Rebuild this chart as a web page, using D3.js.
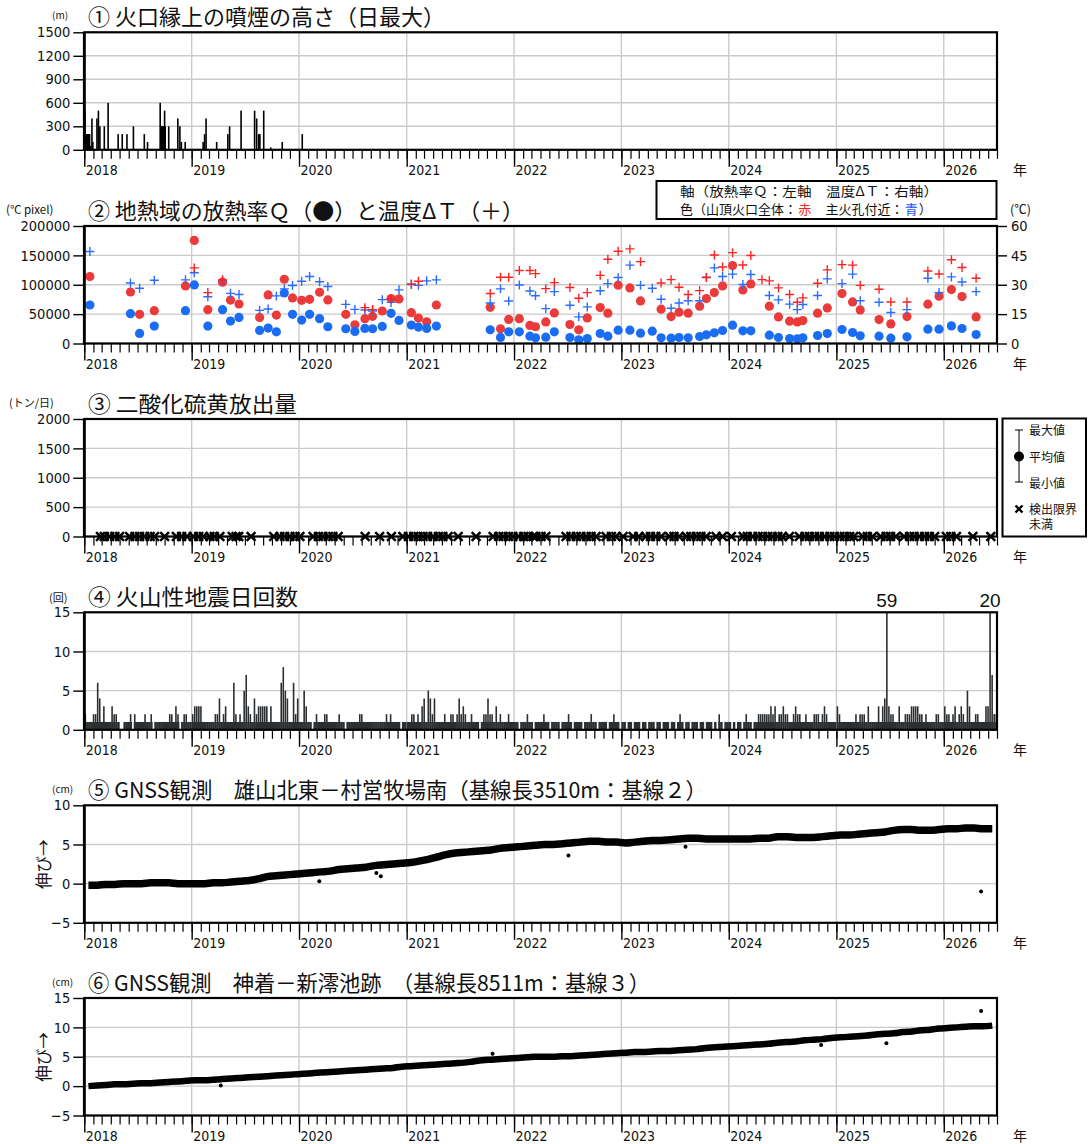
<!DOCTYPE html>
<html><head><meta charset="utf-8">
<script src="https://cdn.jsdelivr.net/npm/d3@7"></script>
<style>body{margin:0;background:#fff}svg{display:block}</style>
</head><body>
<svg id="chart" width="1089" height="1144"></svg>
<script>
// ---------------- DATA ----------------
const titles = [
  "① 火口縁上の噴煙の高さ（日最大）",
  "② 地熱域の放熱率Ｑ（●）と温度ΔＴ（＋）",
  "③ 二酸化硫黄放出量",
  "④ 火山性地震日回数",
  "⑤ GNSS観測　雄山北東－村営牧場南（基線長3510m：基線２）",
  "⑥ GNSS観測　神着－新澪池跡　（基線長8511m：基線３）"
];
const units = ["(m)", "(℃ pixel)", "(トン/日)", "(回)", "(cm)", "(cm)"];
const legend2Line1 = "軸（放熱率Ｑ：左軸　温度ΔＴ：右軸）";
const legend2Line2 = [["色（山頂火口全体：","#111"],["赤","#ff1a1a"],["　主火孔付近：","#111"],["青","#1a55ff"],["）","#111"]];
const legend3Items = ["最大値","平均値","最小値","検出限界","未満"];
const yTicks1 = [0, 300, 600, 900, 1200, 1500];
const yTicks2 = [0, 50000, 100000, 150000, 200000];
const yTicks2R = [0, 15, 30, 45, 60];
const yTicks3 = [0, 500, 1000, 1500, 2000];
const yTicks4 = [0, 5, 10, 15];
const yTicks5 = [-5, 0, 5, 10];
const yTicks6 = [-5, 0, 5, 10, 15];

// ① plume height (daily max, m)
const plumeDates = ["2018-01-03","2018-01-07","2018-01-10","2018-01-13","2018-01-16","2018-01-19","2018-01-22","2018-01-27","2018-01-30",
  "2018-02-13","2018-02-18","2018-02-23","2018-03-10","2018-03-23","2018-04-26","2018-05-10","2018-05-26","2018-06-17","2018-07-24","2018-08-04",
  "2018-09-16","2018-09-18","2018-09-20","2018-09-22","2018-09-24","2018-09-26","2018-09-28","2018-10-01","2018-10-03","2018-10-15",
  "2018-11-15","2018-11-22","2018-11-27","2018-12-10",
  "2019-02-09","2019-02-14","2019-02-19","2019-03-27","2019-05-04","2019-05-10","2019-06-18","2019-08-03","2019-08-10","2019-08-17","2019-08-21",
  "2019-09-03","2019-09-27","2019-11-05","2020-01-12"];
const plumeHeights = [500,200,200,200,200,200,50,400,100,
  400,500,300,300,600,200,200,200,300,200,100,
  600,300,300,300,300,300,300,500,300,300,
  400,300,100,100,
  100,200,400,100,200,300,500,500,400,200,200,
  500,30,100,200];

// ② heat discharge rate Q (left axis) and temperature ΔT (right axis)
const heatDates = ["2018-01-20","2018-06-07","2018-07-08","2018-08-27","2018-12-11","2019-01-10","2019-02-25","2019-04-16","2019-05-13","2019-06-11",
  "2019-08-20","2019-09-18","2019-10-16","2019-11-12","2019-12-10","2020-01-10","2020-02-06","2020-03-11","2020-04-08","2020-06-08",
  "2020-07-09","2020-08-12","2020-09-07","2020-10-10","2020-11-09","2020-12-06","2021-01-17","2021-02-10","2021-03-10","2021-04-12",
  "2021-10-12","2021-11-16","2021-12-14","2022-01-19","2022-02-24","2022-03-15","2022-04-19","2022-05-18","2022-07-10","2022-08-09",
  "2022-09-07","2022-10-21","2022-11-16","2022-12-21","2023-01-30","2023-03-07","2023-04-16","2023-05-16","2023-06-19","2023-07-16",
  "2023-08-16","2023-09-24","2023-10-17","2023-11-13","2023-12-11","2024-01-14","2024-02-18","2024-03-16","2024-04-23","2024-05-18",
  "2024-06-18","2024-07-26","2024-08-21","2024-09-09","2024-10-29","2024-12-01","2025-01-20","2025-02-25","2025-03-23","2025-05-26",
  "2025-07-05","2025-08-29","2025-11-08","2025-12-16","2026-01-27","2026-03-04","2026-04-21"];
const qRed = [114000,87700,49600,55800,98000,175500,57500,104300,74000,67200,
  44400,82600,48400,109400,77500,73500,75200,87200,74100,49600,
  31900,42200,46200,55300,76400,75800,52400,43300,37000,65500,
  61500,25100,41000,42200,30800,28500,36800,52100,32300,23200,
  43600,61200,51600,99200,94600,72500,null,58400,45900,53300,
  51600,63500,76500,86700,98000,132600,91200,101400,null,63500,
  45300,38000,36800,39100,51600,60600,85000,70800,57200,40800,
  33400,45900,66900,80500,91800,79900,45300];
const qBlue = [65500,50700,17100,29600,55800,99700,29600,57500,38200,44400,
  22200,26200,19900,86000,49600,39900,49600,42200,28500,25100,
  20500,25600,25100,29100,51300,39300,31300,27900,25600,29600,
  23400,10300,19900,19900,12500,9700,10800,19800,10200,6200,
  8500,17000,12500,22700,22700,17600,21000,9600,9100,10200,
  9600,11900,14700,18100,22100,31200,21500,21500,null,14200,
  10200,8500,7900,9600,13600,17000,23800,18700,13000,12500,
  9100,11300,24400,24400,30000,25500,15300];
const tRed = [null,null,null,null,null,38.6,26.0,32.5,null,null,
  null,null,null,null,null,null,null,null,null,null,
  null,18.3,17.3,null,22.7,null,30.4,31.8,null,null,
  25.5,33.8,33.8,37.3,37.3,35.7,28.0,31.1,28.6,23.1,
  26.0,34.8,43.0,47.1,48.3,41.8,null,30.9,32.6,28.7,
  25.0,27.0,33.7,45.2,39.1,46.4,40.1,44.9,32.6,32.0,
  28.4,25.0,21.1,23.3,30.8,37.6,40.3,40.0,29.7,27.7,
  21.2,21.2,37.0,35.5,42.8,38.8,33.3];
const tBlue = [47.0,30.9,28.2,32.3,32.5,36.1,23.9,32.1,25.6,25.0,
  16.9,17.6,24.3,27.9,29.6,31.8,34.2,31.5,29.1,20.0,
  17.4,17.1,16.6,22.4,21.0,27.4,30.1,29.7,32.0,32.5,
  20.7,27.9,21.7,29.9,26.8,24.4,17.8,26.5,19.5,13.6,
  18.7,26.9,30.6,33.7,40.0,29.7,28.2,22.6,18.0,20.7,
  21.8,21.8,33.8,38.6,34.2,35.4,30.1,35.2,null,24.5,
  22.3,20.1,17.3,19.9,24.5,33.0,30.6,35.4,21.8,21.1,
  15.8,17.3,33.3,26.0,34.0,31.4,26.5];

// ③ SO2: observation dates below detection limit
const so2BelowLimit = ["2018-02-25","2018-03-10","2018-03-28","2018-04-15","2018-05-01","2018-06-04","2018-06-22","2018-07-08","2018-07-25","2018-08-13",
  "2018-08-28","2018-10-01","2018-11-10","2018-11-28","2018-12-16","2019-01-07","2019-01-25","2019-02-10","2019-03-04","2019-03-19",
  "2019-04-07","2019-05-19","2019-06-01","2019-06-10","2019-07-22","2019-10-07","2019-10-28","2019-11-13","2019-12-01","2019-12-19",
  "2020-01-04","2020-02-18","2020-03-07","2020-03-22","2020-04-10","2020-04-25","2020-05-13","2020-08-13","2020-10-01","2020-11-10",
  "2020-12-19","2021-01-07","2021-01-25","2021-02-09","2021-02-26","2021-03-13","2021-04-01","2021-04-19","2021-05-04","2021-05-22",
  "2021-06-25","2021-08-25","2021-10-22","2021-11-10","2021-11-25","2021-12-13","2021-12-28","2022-01-16","2022-02-03","2022-02-18",
  "2022-03-07","2022-03-16","2022-04-03","2022-04-19","2022-06-27","2022-07-13","2022-08-01","2022-08-16","2022-09-04","2022-09-20",
  "2022-10-07","2022-11-10","2022-11-28","2022-12-13","2023-01-07","2023-02-10","2023-03-01","2023-03-25","2023-04-10","2023-04-28",
  "2023-05-16","2023-06-13","2023-06-29","2023-07-16","2023-08-10","2023-08-25","2023-09-13","2023-09-28","2023-10-16","2023-11-19",
  "2023-12-11","2024-01-10","2024-02-19","2024-03-04","2024-03-22","2024-04-10","2024-04-25","2024-05-13","2024-05-28","2024-06-16",
  "2024-07-01","2024-07-25","2024-08-28","2024-09-16","2024-10-01","2024-10-19","2024-11-04","2024-11-22","2024-12-10","2024-12-25",
  "2025-01-13","2025-01-28","2025-02-15","2025-03-01","2025-04-01","2025-04-16","2025-05-04","2025-06-01","2025-06-19","2025-07-04",
  "2025-07-22","2025-08-19","2025-09-07","2025-09-22","2025-10-10","2025-10-28","2025-11-13","2025-12-01","2026-01-10","2026-01-25",
  "2026-02-13","2026-04-10","2026-06-10"];

// ④ volcanic earthquakes: weekly maximum of daily counts, by year
const quake2018 = [2,1,1,1,2,2,6,4,1,3,1,1,1,3,2,2,1,0,0,1,1,1,2,0,2,1,1,1,1,2,1,1,2,0,1,1,1,1,1,1,1,2,2,1,3,2,0,1,2,2,1,1];
const quake2019 = [2,3,3,3,3,1,1,1,1,1,1,2,2,4,1,2,3,1,1,1,6,2,1,2,1,5,7,3,2,1,4,2,3,3,3,3,3,1,3,1,1,1,1,6,8,5,4,1,1,6,2,4];
const quake2020 = [1,1,5,3,1,1,0,1,2,1,1,1,2,2,1,1,1,1,1,2,1,1,0,1,1,1,1,1,1,2,2,1,1,1,1,1,1,1,1,1,1,1,2,1,2,1,1,1,1,0,1,1];
const quake2021 = [1,1,2,2,1,2,1,3,4,1,5,4,2,4,1,1,1,1,2,1,1,2,2,1,2,4,2,3,2,1,1,2,1,1,1,0,1,2,2,4,2,2,1,3,1,2,1,1,1,2,1,1];
const quake2022 = [1,1,0,1,1,1,2,1,1,0,1,1,1,1,2,1,1,0,1,1,1,1,0,1,1,1,2,1,0,1,1,1,1,0,1,1,1,2,1,1,0,1,1,1,1,0,1,1,2,1,1,0];
const quake2023 = [1,1,0,1,1,0,1,1,1,0,1,1,0,1,1,1,0,1,1,0,1,1,1,0,1,1,0,1,2,1,0,1,1,0,1,1,1,0,1,1,0,1,1,1,0,1,0,2,1,0,1,1];
const quake2024 = [1,0,1,0,1,1,0,1,2,1,1,0,1,1,2,2,2,2,2,2,3,2,3,1,2,2,3,2,2,1,1,2,3,2,2,1,1,2,1,1,1,2,2,2,1,2,3,2,1,1,1,1];
const quake2025 = [3,2,1,1,1,1,1,1,1,2,1,2,2,2,1,3,1,1,1,1,3,1,3,4,59,3,2,2,1,1,3,1,1,2,2,2,3,3,3,3,2,2,1,2,1,1,1,1,2,2,1,1];
const quake2026 = [3,2,2,1,2,3,1,2,3,2,1,5,3,1,1,2,2,1,1,1,3,3,20,7,2,2];

// ⑤ ⑥ GNSS baseline changes (cm), monthly from 2018-01
const gnss5 = [-0.2,-0.2,-0.1,-0.1,0.0,0.0,0.0,0.1,0.1,0.1,0.0,0.0,
  0.0,0.0,0.1,0.1,0.2,0.3,0.4,0.6,0.9,1.0,1.1,1.2,
  1.3,1.4,1.5,1.6,1.8,1.9,2.0,2.1,2.3,2.4,2.5,2.6,
  2.7,2.9,3.1,3.4,3.7,3.9,4.0,4.1,4.2,4.3,4.5,4.6,
  4.7,4.8,4.9,5.0,5.0,5.1,5.2,5.3,5.4,5.4,5.3,5.3,
  5.2,5.3,5.4,5.5,5.5,5.6,5.7,5.8,5.8,5.7,5.7,5.7,
  5.7,5.7,5.7,5.8,5.8,6.0,6.0,5.9,5.9,5.9,6.0,6.1,
  6.2,6.2,6.3,6.4,6.5,6.6,6.8,6.9,6.9,6.8,6.8,6.9,
  7.0,7.0,7.1,7.1,7.0,7.0];
const gnss5OutlierDates = ["2020-03-10","2020-09-20","2020-10-05","2022-07-05","2023-08-07","2026-05-08"];
const gnss5OutlierValues = [0.3,1.35,0.95,3.6,4.7,-1.0];
const gnss6 = [0.0,0.1,0.2,0.3,0.3,0.4,0.5,0.5,0.6,0.7,0.8,0.9,
  1.0,1.0,1.1,1.2,1.3,1.4,1.5,1.6,1.7,1.8,1.9,2.0,
  2.1,2.2,2.3,2.4,2.5,2.6,2.7,2.8,2.9,3.0,3.1,3.3,
  3.4,3.5,3.6,3.7,3.8,3.9,4.0,4.2,4.4,4.5,4.6,4.7,
  4.8,4.9,5.0,5.0,5.0,5.1,5.1,5.2,5.3,5.4,5.5,5.6,
  5.7,5.8,5.8,5.9,6.0,6.0,6.1,6.2,6.3,6.5,6.6,6.7,
  6.8,6.9,7.0,7.1,7.2,7.4,7.5,7.6,7.8,7.9,8.0,8.2,
  8.3,8.4,8.5,8.6,8.8,8.9,9.0,9.2,9.3,9.5,9.6,9.8,
  9.9,10.0,10.1,10.2,10.2,10.3];
const gnss6OutlierDates = ["2019-04-10","2021-10-20","2024-11-10","2025-06-20","2026-05-08"];
const gnss6OutlierValues = [0.1,5.5,7.0,7.3,12.8];

// ---------------- LAYOUT / STYLE ----------------
const JP = "'Noto Sans CJK JP','Noto Sans JP',sans-serif";
const NUM = "'Liberation Sans Narrow','DejaVu Sans Condensed','Noto Sans CJK JP',sans-serif";
const X0 = 84.3, X1 = 997, PH = 117.5;
const tops = [32.3, 226, 419, 612.3, 805.3, 998];
const titleWidths = [357, 436, 209, 210, 619, 562];
const GRID = "#cbcbcb";
const RED_DOT = "#ea3a3a", BLUE_DOT = "#1a6cf2", RED_P = "#ff2222", BLUE_P = "#2a6cff";

const svg = d3.select("#chart");
svg.append("rect").attr("width",1089).attr("height",1144).attr("fill","#fff");
const parse = d3.utcParse("%Y-%m-%d");
const x = d3.scaleUtc().domain([new Date(Date.UTC(2018,0,1)), new Date(Date.UTC(2026,6,1))]).range([X0, X1]);

function makePanel(i, domain, ticks) {
  const top = tops[i], bot = top + PH;
  const y = d3.scaleLinear().domain(domain).range([bot, top]);
  const g = svg.append("g");
  const grid = g.append("g"), data = g.append("g"), axes = g.append("g");
  grid.selectAll("line.h").data(ticks).join("line").attr("class","h")
    .attr("x1",X0).attr("x2",X1).attr("y1",d=>y(d)).attr("y2",d=>y(d))
    .attr("stroke",GRID).attr("stroke-width",1.4);
  grid.selectAll("line.v").data(x.ticks(d3.utcYear.every(1)).slice(1)).join("line").attr("class","v")
    .attr("x1",d=>x(d)).attr("x2",d=>x(d)).attr("y1",top).attr("y2",bot)
    .attr("stroke",GRID).attr("stroke-width",1.4);
  const gm = axes.append("g").attr("transform",`translate(0,${bot})`)
    .call(d3.axisBottom(x).ticks(d3.utcMonth.every(1)).tickSize(9).tickFormat(""));
  gm.select(".domain").remove();
  gm.selectAll("line").attr("stroke","#000").attr("stroke-width",1.2);
  const gyr = axes.append("g").attr("transform",`translate(0,${bot})`)
    .call(d3.axisBottom(x).ticks(d3.utcYear.every(1)).tickSize(17).tickFormat(d3.utcFormat("%Y")));
  gyr.select(".domain").remove();
  gyr.selectAll("line").attr("stroke","#000").attr("stroke-width",1.4);
  gyr.selectAll("text").attr("x",1).attr("y",25.5).attr("dy",null).attr("text-anchor","start")
    .attr("font-family",NUM).attr("font-size",14).attr("fill","#111");
  axes.append("text").attr("x",1013).attr("y",bot+25.5).attr("font-family",JP).attr("font-size",14).attr("fill","#111").text("年");
  const ga = axes.append("g").attr("transform",`translate(${X0},0)`)
    .call(d3.axisLeft(y).tickValues(ticks).tickSize(11).tickPadding(3).tickFormat(d3.format("d")));
  ga.select(".domain").remove();
  ga.selectAll("line").attr("stroke","#000").attr("stroke-width",1.4);
  ga.selectAll("text").attr("font-family",NUM).attr("font-size",14.5).attr("fill","#111");
  axes.append("rect").attr("x",X0).attr("y",top).attr("width",X1-X0).attr("height",PH)
    .attr("fill","none").attr("stroke","#000").attr("stroke-width",2.2);
  axes.append("line").attr("x1",X0).attr("x2",X0).attr("y1",top).attr("y2",bot+1)
    .attr("stroke","#000").attr("stroke-width",2.8);
  axes.append("text").attr("x",88).attr("y",top-7).attr("font-family",JP).attr("font-size",22)
    .attr("textLength",titleWidths[i]).attr("lengthAdjust","spacingAndGlyphs").attr("fill","#111").text(titles[i]);
  return {y, data, axes, top, bot};
}

// ① plume
{
  const p = makePanel(0, [0,1500], yTicks1);
  p.axes.append("text").attr("x",52).attr("y",p.top-13).attr("font-family",JP).attr("font-size",10).attr("fill","#111").text(units[0]);
  p.data.selectAll("rect").data(plumeDates.map((d,i)=>({d:parse(d), v:plumeHeights[i]}))).join("rect")
    .attr("x",d=>x(d.d)-0.8).attr("width",1.6).attr("y",d=>p.y(d.v)).attr("height",d=>p.bot-p.y(d.v)).attr("fill","#000");
}

// ② heat
{
  const p = makePanel(1, [0,200000], yTicks2);
  const yT = d3.scaleLinear().domain([0,60]).range([p.bot, p.top]);
  const gr = p.axes.append("g").attr("transform",`translate(${X1},0)`)
    .call(d3.axisRight(yT).tickValues(yTicks2R).tickSize(10).tickPadding(4));
  gr.select(".domain").remove();
  gr.selectAll("line").attr("stroke","#000").attr("stroke-width",1.4);
  gr.selectAll("text").attr("font-family",NUM).attr("font-size",14.5).attr("fill","#111");
  p.axes.append("text").attr("x",6).attr("y",p.top-12).attr("font-family",JP).attr("font-size",11.5).attr("fill","#111").text(units[1]);
  p.axes.append("text").attr("x",1010).attr("y",p.top-12).attr("font-family",JP).attr("font-size",12.5).attr("fill","#111").text("(℃)");
  const rows = heatDates.map((d,i)=>({d:parse(d), qr:qRed[i], qb:qBlue[i], tr:tRed[i], tb:tBlue[i]}));
  const plus = "M-4.5,0H4.5M0,-4.5V4.5";
  p.data.selectAll("circle.r").data(rows.filter(r=>r.qr!=null)).join("circle").attr("class","r")
    .attr("cx",d=>x(d.d)).attr("cy",d=>p.y(d.qr)).attr("r",4.6).attr("fill",RED_DOT);
  p.data.selectAll("circle.b").data(rows.filter(r=>r.qb!=null)).join("circle").attr("class","b")
    .attr("cx",d=>x(d.d)).attr("cy",d=>p.y(d.qb)).attr("r",4.6).attr("fill",BLUE_DOT);
  p.data.selectAll("path.b").data(rows.filter(r=>r.tb!=null)).join("path").attr("class","b")
    .attr("d",plus).attr("transform",d=>`translate(${x(d.d)},${yT(d.tb)})`).attr("stroke",BLUE_P).attr("stroke-width",1.4).attr("fill","none");
  p.data.selectAll("path.r").data(rows.filter(r=>r.tr!=null)).join("path").attr("class","r")
    .attr("d",plus).attr("transform",d=>`translate(${x(d.d)},${yT(d.tr)})`).attr("stroke",RED_P).attr("stroke-width",1.4).attr("fill","none");
  const lg = p.axes.append("g");
  const FS = 13;
  lg.append("rect").attr("x",656.5).attr("y",181).attr("width",340).attr("height",38).attr("fill","#fff").attr("stroke","#000").attr("stroke-width",2);
  lg.append("text").attr("x",680).attr("y",195.5).attr("font-family",JP).attr("font-size",FS)
    .attr("textLength",258).attr("lengthAdjust","spacingAndGlyphs").attr("fill","#111").text(legend2Line1);
  let cx = 680;
  legend2Line2.forEach(([s,c]) => {
    const t = lg.append("text").attr("x",cx).attr("y",214).attr("font-family",JP).attr("font-size",FS).attr("fill",c).text(s);
    const w = t.node().getComputedTextLength();
    cx += (w > 0 ? w : s.length * FS) + 1.2;
  });
}

// ③ SO2
{
  const p = makePanel(2, [0,2000], yTicks3);
  p.axes.append("text").attr("x",9).attr("y",p.top-12).attr("font-family",JP).attr("font-size",11).attr("fill","#111").text(units[2]);
  const xsym = d3.symbol().type(d3.symbolX).size(52);
  p.axes.selectAll("path.x").data(so2BelowLimit.map(parse)).join("path").attr("class","x")
    .attr("d",xsym).attr("transform",d=>`translate(${x(d)},${p.y(0)})`).attr("stroke","#000").attr("stroke-width",2.5).attr("fill","none");
  const lg = p.axes.append("g");
  lg.append("rect").attr("x",1002.5).attr("y",418.5).attr("width",83.5).attr("height",118).attr("fill","#fff").attr("stroke","#000").attr("stroke-width",2);
  lg.append("line").attr("x1",1019).attr("x2",1019).attr("y1",430).attr("y2",482).attr("stroke","#000").attr("stroke-width",1);
  lg.append("line").attr("x1",1015).attr("x2",1023).attr("y1",430).attr("y2",430).attr("stroke","#000").attr("stroke-width",1);
  lg.append("line").attr("x1",1015).attr("x2",1023).attr("y1",482).attr("y2",482).attr("stroke","#000").attr("stroke-width",1);
  lg.append("circle").attr("cx",1019).attr("cy",456.5).attr("r",5).attr("fill","#000");
  lg.append("path").attr("d",d3.symbol().type(d3.symbolX).size(34)).attr("transform","translate(1019,509)").attr("stroke","#000").attr("stroke-width",2.4).attr("fill","none");
  const ys = [434.5,461.5,487.5,513.5,528.5];
  lg.selectAll("text").data(legend3Items).join("text").attr("x",1029).attr("y",(d,k)=>ys[k]).attr("font-family",JP).attr("font-size",12).attr("fill","#111").text(d=>d);
}

// ④ earthquakes
{
  const p = makePanel(3, [0,15], yTicks4);
  p.axes.append("text").attr("x",49).attr("y",p.top-10).attr("font-family",JP).attr("font-size",11).attr("fill","#111").text(units[3]);
  const byYear = [[2018,quake2018],[2019,quake2019],[2020,quake2020],[2021,quake2021],[2022,quake2022],[2023,quake2023],[2024,quake2024],[2025,quake2025],[2026,quake2026]];
  const weeks = [];
  byYear.forEach(([yr, arr]) => arr.forEach((v,i) => {
    const s = d3.utcDay.offset(new Date(Date.UTC(yr,0,1)), 7*i);
    weeks.push({s, e:d3.utcDay.offset(s,7), v});
  }));
  const COL = "#2c2f31";
  p.data.selectAll("rect").data(weeks.filter(w=>w.v>0)).join("rect")
    .attr("x",d=>x(d.s)).attr("width",d=>Math.min(x(d.e)+0.4,X1)-x(d.s)).attr("y",p.y(1)).attr("height",p.bot-p.y(1)).attr("fill",COL);
  p.data.selectAll("line").data(weeks.filter(w=>w.v>1)).join("line")
    .attr("x1",d=>(x(d.s)+x(d.e))/2).attr("x2",d=>(x(d.s)+x(d.e))/2)
    .attr("y1",p.y(1)).attr("y2",d=>p.y(Math.min(d.v,15))).attr("stroke",COL).attr("stroke-width",1.6);
  p.axes.selectAll("text.big").data(weeks.filter(w=>w.v>15)).join("text").attr("class","big")
    .attr("x",d=>(x(d.s)+x(d.e))/2).attr("y",p.top-5).attr("text-anchor","middle")
    .attr("font-family","'Liberation Sans',Arial,sans-serif").attr("font-size",19).attr("fill","#111").text(d=>d.v);
}

// ⑤ ⑥ GNSS
function gnssPanel(i, domain, ticks, vals, oDates, oVals, bandW) {
  const p = makePanel(i, domain, ticks);
  p.axes.append("text").attr("x",52).attr("y",p.top-12).attr("font-family",JP).attr("font-size",10).attr("fill","#111").text(units[i]);
  p.axes.append("text").attr("transform",`translate(50,${p.top+59}) rotate(-90)`).attr("text-anchor","middle")
    .attr("font-family",JP).attr("font-size",16.5).attr("fill","#111").text("伸び→");
  const pts = vals.map((v,k)=>({d:new Date(Date.UTC(2018,k,15)), v}));
  const line = d3.line().x(d=>x(d.d)).y(d=>p.y(d.v)).curve(d3.curveMonotoneX);
  p.data.append("path").datum(pts).attr("d",line).attr("fill","none").attr("stroke","#000")
    .attr("stroke-width",bandW).attr("stroke-linecap","butt").attr("stroke-linejoin","round");
  p.data.selectAll("circle.o").data(oDates.map((d,k)=>({d:parse(d), v:oVals[k]}))).join("circle").attr("class","o")
    .attr("cx",d=>x(d.d)).attr("cy",d=>p.y(d.v)).attr("r",2).attr("fill","#000");
}
gnssPanel(4, [-5,10], yTicks5, gnss5, gnss5OutlierDates, gnss5OutlierValues, 7.5);
gnssPanel(5, [-5,15], yTicks6, gnss6, gnss6OutlierDates, gnss6OutlierValues, 6.5);
</script>
</body></html>
